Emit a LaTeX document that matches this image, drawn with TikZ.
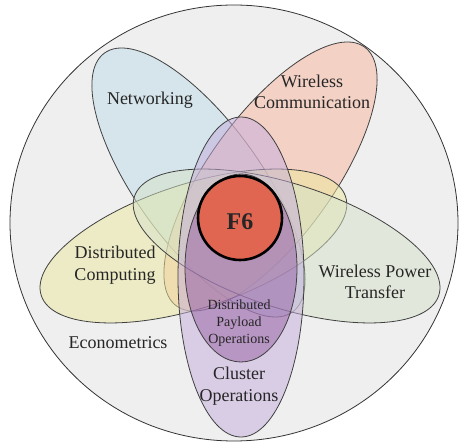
\documentclass[tikz,border=0pt]{standalone}
\usepackage{fontspec}
\setmainfont{Liberation Serif}
\usepackage{tikz}
\definecolor{bggray}{RGB}{239,239,239}
\definecolor{netblue}{RGB}{189,221,233}
\definecolor{wcpink}{RGB}{247,181,157}
\definecolor{dcyellow}{RGB}{237,233,157}
\definecolor{wptgreen}{RGB}{213,227,201}
\definecolor{clpurple}{RGB}{197,173,221}
\definecolor{dpopurple}{RGB}{150,96,162}
\definecolor{fsixred}{RGB}{224,102,82}
\tikzset{
  petal/.style={draw=black!75, line width=0.8pt, fill opacity=0.5},
  lbl/.style={font=\fontsize{18}{21.5}\selectfont, text=black!85, align=center, inner sep=0pt},
  smalllbl/.style={font=\fontsize{14}{17}\selectfont, text=black!85, align=center, inner sep=0pt}
}

\begin{document}
\begin{tikzpicture}[x=1pt,y=1pt]
\useasboundingbox (0,0) rectangle (460,444);
% outer circle
\draw [black!80, line width=0.8pt, fill=bggray] (234,221) ellipse (224 and 218) ;

% the five petals
\draw [petal, fill=netblue, rotate around={126:(198.5,261.5)}] (198.5,261.5) ellipse (160 and 62) ;
\draw [petal, fill=wcpink, rotate around={54:(270.5,267.5)}] (270.5,267.5) ellipse (160 and 62) ;
\draw [petal, fill=dcyellow, rotate around={18:(193.4,198)}] (193.4,198) ellipse (160 and 62) ;
\draw [petal, fill=wptgreen, rotate around={-18:(286.6,198)}] (286.6,198) ellipse (160 and 62) ;
\draw [petal, fill=clpurple] (241,167) ellipse (63 and 160) ;

% inner ellipse and core
\draw [petal, fill=dpopurple] (241,176) ellipse (56 and 94) ;
\draw [line width=2.6pt, fill=fsixred] (240,226) circle (42) ;

\node [lbl] (net) at (150,344) {Networking};
\node [lbl] (wcom) at (312,352) {Wireless\\Communication};
\node [lbl] (dcomp) at (115,179) {Distributed\\Computing};
\node [lbl] (wpt) at (375,162) {Wireless Power\\Transfer};
\node [lbl] (econ) at (118,101) {Econometrics};
\node [smalllbl] (dpo) at (239,121) {Distributed\\Payload\\Operations};
\node [lbl] (clop) at (239,58) {Cluster\\Operations};
\node [font=\fontsize{24}{28}\selectfont\bfseries, text=black!85, inner sep=0pt] (fsix) at (240,222) {F6};
\end{tikzpicture}
\end{document}
